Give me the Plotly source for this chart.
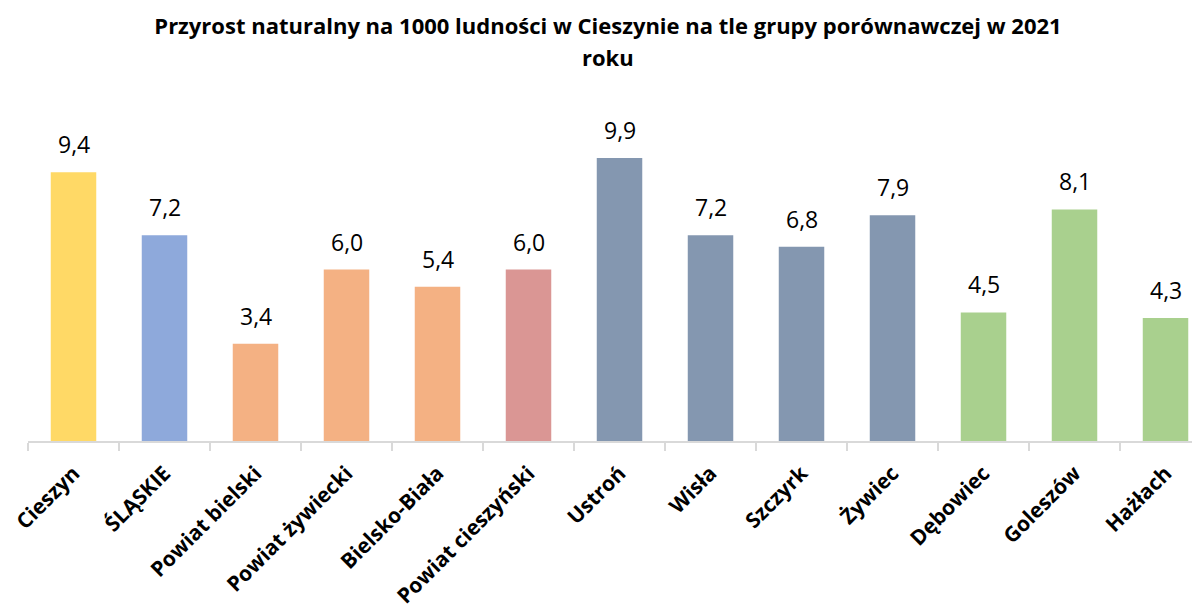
import plotly.graph_objects as go

categories = ["Cieszyn", "ŚLĄSKIE", "Powiat bielski", "Powiat żywiecki", "Bielsko-Biała",
              "Powiat cieszyński", "Ustroń", "Wisła", "Szczyrk", "Żywiec",
              "Dębowiec", "Goleszów", "Hażłach"]
values = [9.4, 7.2, 3.4, 6.0, 5.4, 6.0, 9.9, 7.2, 6.8, 7.9, 4.5, 8.1, 4.3]

bar_colors = ["#FFD966", "#8EA9DB", "#F4B183", "#F4B183", "#F4B183", "#DA9694",
              "#8497B0", "#8497B0", "#8497B0", "#8497B0", "#A9D08E", "#A9D08E", "#A9D08E"]

title_line1 = "Przyrost naturalny na 1000 ludności w Cieszynie na tle grupy porównawczej w 2021"
title_line2 = "roku"

FONT = "Open Sans, Lato, sans-serif"
W, H = 1192, 602

fig = go.Figure()
fig.add_trace(go.Bar(
    x=categories, y=values,
    marker=dict(color=bar_colors, line=dict(width=0)),
    width=0.5,
    hoverinfo="x+y",
))

for c, v in zip(categories, values):
    fig.add_annotation(
        x=c, y=v, text=f"{v:.1f}".replace(".", ","),
        showarrow=False, yanchor="bottom", yshift=10,
        font=dict(family=FONT, size=23, color="#000000"),
    )

fig.add_annotation(
    xref="paper", yref="paper", x=0.495, y=1.1195, xanchor="center", yanchor="middle",
    text=title_line2, showarrow=False,
    font=dict(family=FONT, size=22, color="#000000", weight="bold"),
)

fig.update_layout(
    width=W, height=H,
    paper_bgcolor="white", plot_bgcolor="white",
    margin=dict(l=20, r=0, t=90, b=169, autoexpand=False),
    showlegend=False,
    title=dict(
        text=title_line1, x=600 / W, xanchor="center", xref="container",
        y=1 - 18 / H, yanchor="middle", yref="container",
        font=dict(family=FONT, size=22, color="#000000", weight="bold"),
    ),
    xaxis=dict(
        range=[-0.5, 12.379], automargin=False,
        showline=True, linecolor="#D9D9D9", linewidth=1.5,
        ticks="outside", tickson="boundaries", ticklen=8, tickcolor="#D9D9D9", tickwidth=1.5,
        tickangle=-45, ticklabelstandoff=10,
        tickfont=dict(family=FONT, size=21, color="#000000", weight="bold"),
        showgrid=False, zeroline=False,
    ),
    yaxis=dict(
        range=[0, 12], visible=False, showgrid=False, zeroline=False, automargin=False,
    ),
)

fig.write_html("out.html")
